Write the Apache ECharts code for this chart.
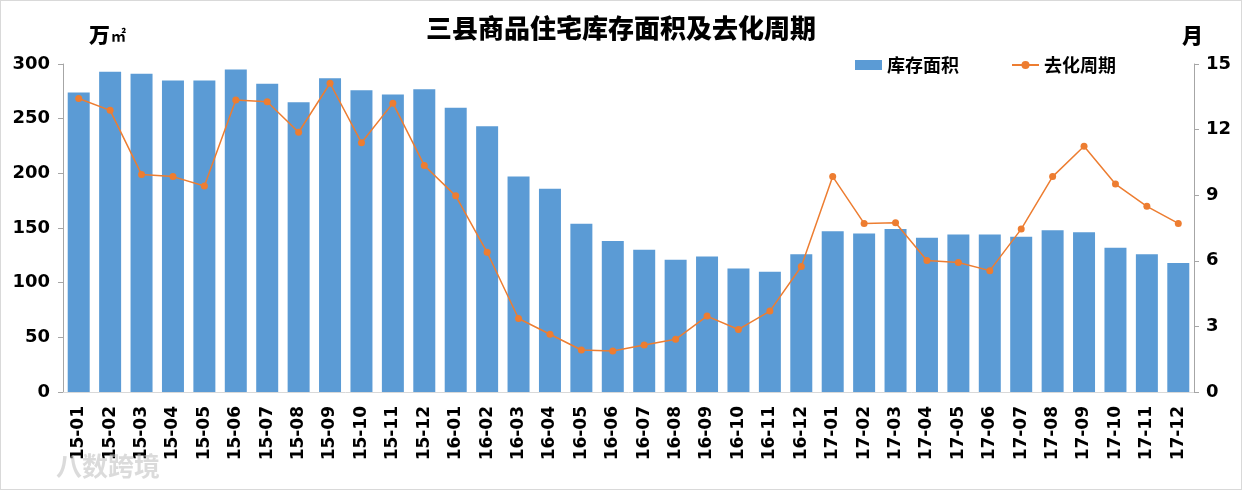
<!DOCTYPE html>
<html><head><meta charset="utf-8">
<script src="https://cdn.jsdelivr.net/npm/echarts@6/dist/echarts.min.js"></script>
<style>html,body{margin:0;padding:0;background:#fff}#c{width:1240px;height:488px;border:1px solid #d9d9d9}</style>
</head><body><div id="c"></div>
<script>
const categories = ['15-01','15-02','15-03','15-04','15-05','15-06','15-07','15-08','15-09','15-10','15-11','15-12',
'16-01','16-02','16-03','16-04','16-05','16-06','16-07','16-08','16-09','16-10','16-11','16-12',
'17-01','17-02','17-03','17-04','17-05','17-06','17-07','17-08','17-09','17-10','17-11','17-12'];
const inventoryArea = [274,293,291,285,285,295,282,265,287,276,272,277,
260,243,197,186,154,138,130,121,124,113,110,126,
147,145,149,141,144,144,142,148,146,132,126,118];
const destockCycle = [13.42,12.88,9.95,9.85,9.42,13.35,13.27,11.88,14.12,11.4,13.21,10.36,
8.97,6.39,3.36,2.64,1.92,1.88,2.15,2.41,3.47,2.86,3.70,5.74,
9.85,7.71,7.74,6.01,5.92,5.55,7.45,9.85,11.24,9.51,8.49,7.71];
const leftTicks = [0,50,100,150,200,250,300];
const rightTicks = [0,3,6,9,12,15];

const cjk = '"Noto Sans CJK SC", sans-serif';
const num = '"DejaVu Sans", sans-serif';
const chart = echarts.init(document.getElementById('c'));
chart.setOption({
  animation:false,
  backgroundColor:'#fff',
  title:{text:'三县商品住宅库存面积及去化周期',left:'center',top:9,
    textStyle:{fontFamily:cjk,fontWeight:900,fontSize:26,color:'#000'}},
  legend:{left:849,top:50,itemWidth:27,itemHeight:10,itemGap:52,
    textStyle:{fontFamily:cjk,fontWeight:'bold',fontSize:18,color:'#000'},
    data:[{name:'库存面积',icon:'rect'},{name:'去化周期'}]},
  grid:{left:62,right:47,top:63,bottom:97,containLabel:false},
  xAxis:{type:'category',data:categories,
    axisLine:{lineStyle:{color:'#d9d9d9'}},axisTick:{show:false},
    axisLabel:{rotate:90,interval:0,fontFamily:num,fontWeight:'bold',fontSize:17,color:'#000',margin:14}},
  yAxis:[
    {type:'value',min:leftTicks[0],max:leftTicks[leftTicks.length-1],interval:50,
     splitLine:{show:false},axisLine:{show:true,lineStyle:{color:'#a6a6a6'}},
     axisTick:{show:true,length:5,lineStyle:{color:'#a6a6a6'}},
     axisLabel:{fontFamily:num,fontWeight:'bold',fontSize:18,color:'#000',margin:13}},
    {type:'value',min:rightTicks[0],max:rightTicks[rightTicks.length-1],interval:3,
     splitLine:{show:false},axisLine:{show:true,lineStyle:{color:'#a6a6a6'}},
     axisTick:{show:true,length:5,lineStyle:{color:'#a6a6a6'}},
     axisLabel:{fontFamily:num,fontWeight:'bold',fontSize:18,color:'#000',margin:12}}
  ],
  series:[
    {name:'库存面积',type:'bar',data:inventoryArea,barCategoryGap:'30%',
     itemStyle:{color:'#5B9BD5'}},
    {name:'去化周期',type:'line',yAxisIndex:1,data:destockCycle,symbol:'circle',symbolSize:7,
     lineStyle:{color:'#ED7D31',width:1.5},itemStyle:{color:'#ED7D31'}}
  ],
  graphic:[
    {type:'text',left:88,top:23,style:{text:'万',font:'900 21px '+cjk,fill:'#000'}},
    {type:'text',left:110,top:27,style:{text:'㎡',font:'bold 15px '+cjk,fill:'#000'}},
    {type:'text',left:1181,top:24,style:{text:'月',font:'900 21px '+cjk,fill:'#000'}},
    {type:'text',left:55,top:452,z:100,style:{text:'八数跨境',font:'bold 26px '+cjk,fill:'rgba(190,190,190,0.55)'}}
  ]
});
</script></body></html>
